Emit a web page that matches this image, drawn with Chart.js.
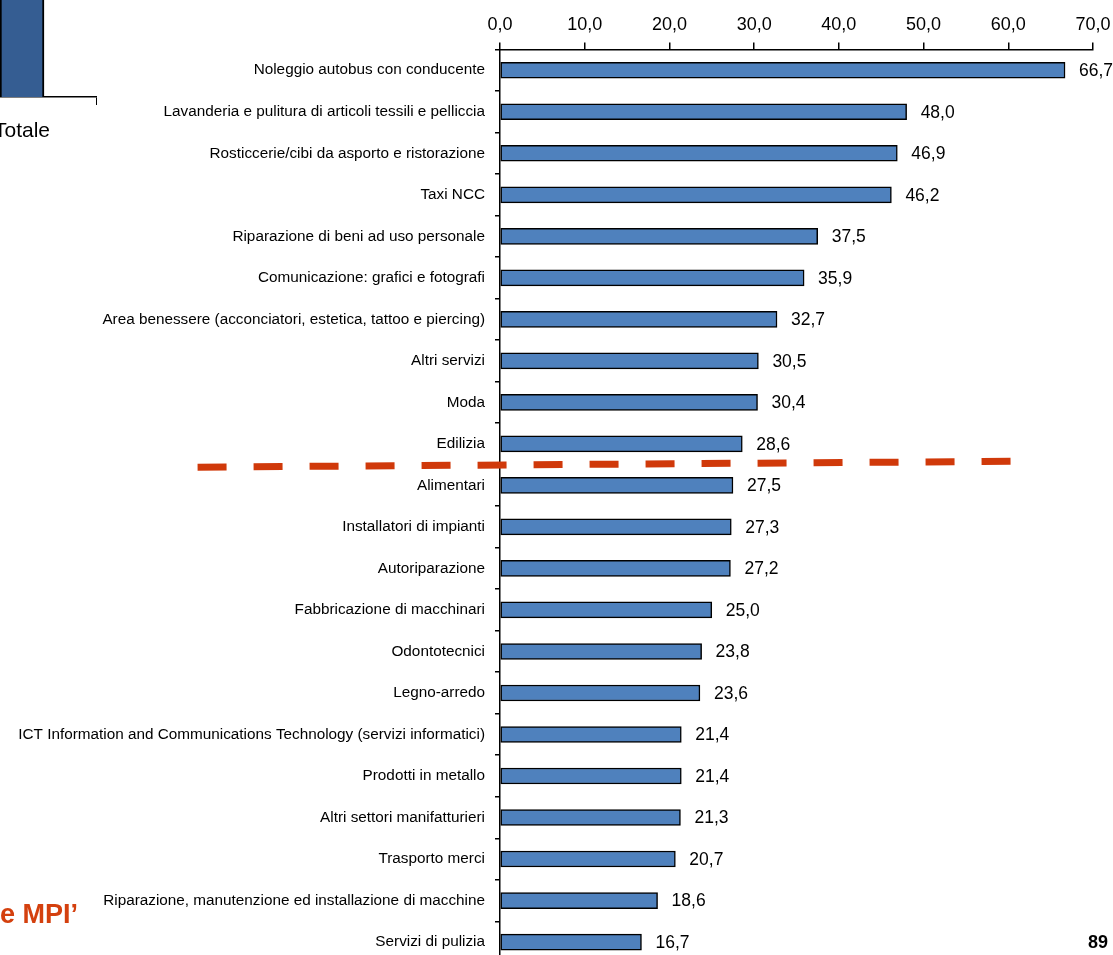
<!DOCTYPE html>
<html>
<head>
<meta charset="utf-8">
<script src="https://cdn.jsdelivr.net/npm/chart.js@4.4.1/dist/chart.umd.min.js"></script>
<style>
  html, body { margin: 0; padding: 0; background: #fff; width: 1113px; height: 955px; overflow: hidden; position: relative; }
  #main { position: absolute; left: 0; top: 0; width: 1113px; height: 982px; }
  #side { position: absolute; left: -53px; top: -10px; width: 150px; height: 165px; }
  .note { position: absolute; font-family: 'Liberation Sans', Arial, sans-serif; white-space: nowrap; }
  #mpi { left: 0; top: 898px; font-size: 27px; font-weight: bold; color: #D4400E; line-height: 32px; }
  #page { left: 1088px; top: 931px; font-size: 18px; font-weight: bold; color: #000; line-height: 22px; }
</style>
</head>
<body>
<div id="side"><canvas id="sideChart"></canvas></div>
<div id="main"><canvas id="chart"></canvas></div>
<div class="note" id="mpi">e MPI’</div>
<div class="note" id="page">89</div>
<script>
const categories = [
  'Noleggio autobus con conducente',
  'Lavanderia e pulitura di articoli tessili e pelliccia',
  'Rosticcerie/cibi da asporto e ristorazione',
  'Taxi NCC',
  'Riparazione di beni ad uso personale',
  'Comunicazione: grafici e fotografi',
  'Area benessere (acconciatori, estetica, tattoo e piercing)',
  'Altri servizi',
  'Moda',
  'Edilizia',
  'Alimentari',
  'Installatori di impianti',
  'Autoriparazione',
  'Fabbricazione di macchinari',
  'Odontotecnici',
  'Legno-arredo',
  'ICT Information and Communications Technology (servizi informatici)',
  'Prodotti in metallo',
  'Altri settori manifatturieri',
  'Trasporto merci',
  'Riparazione, manutenzione ed installazione di macchine',
  'Servizi di pulizia'
];
const values = [66.7, 48.0, 46.9, 46.2, 37.5, 35.9, 32.7, 30.5, 30.4, 28.6, 27.5, 27.3, 27.2, 25.0, 23.8, 23.6, 21.4, 21.4, 21.3, 20.7, 18.6, 16.7];
const xMin = 0;
const xMax = 70;
const xStep = 10;

// threshold separator line (between Edilizia and Alimentari), in data units
const sepStart = { x: -35.7, y: 9.56 };
const sepEnd = { x: 60.7, y: 9.42 };

// fragment of a neighbouring chart at left edge
const sideCategories = ['Totale'];
const sideValues = [100];

const FONT = "'Liberation Sans', Arial, sans-serif";
Chart.defaults.font.family = FONT;
Chart.defaults.color = '#000';

const fmt = v => Number(v).toFixed(1).replace('.', ',');

const valueLabels = {
  id: 'valueLabels',
  afterDatasetsDraw(chart) {
    const ctx = chart.ctx;
    const meta = chart.getDatasetMeta(0);
    ctx.save();
    ctx.font = '17.5px ' + FONT;
    ctx.fillStyle = '#000';
    ctx.textAlign = 'left';
    ctx.textBaseline = 'middle';
    meta.data.forEach((bar, i) => {
      ctx.fillText(fmt(values[i]), bar.x + 14, bar.y + 1);
    });
    ctx.restore();
  }
};

const separator = {
  id: 'separator',
  afterDraw(chart) {
    const xs = chart.scales.x, ys = chart.scales.y;
    const ctx = chart.ctx;
    ctx.save();
    ctx.strokeStyle = '#D0390A';
    ctx.lineWidth = 7;
    ctx.setLineDash([29, 27]);
    ctx.beginPath();
    ctx.moveTo(xs.getPixelForValue(sepStart.x), ys.getPixelForValue(sepStart.y));
    ctx.lineTo(xs.getPixelForValue(sepEnd.x), ys.getPixelForValue(sepEnd.y));
    ctx.stroke();
    ctx.restore();
  }
};

new Chart(document.getElementById('chart'), {
  type: 'bar',
  data: {
    labels: categories,
    datasets: [{
      data: values,
      backgroundColor: '#4F81BD',
      borderColor: '#000',
      borderWidth: 1.5,
      barThickness: 16,
      borderSkipped: false
    }]
  },
  options: {
    indexAxis: 'y',
    responsive: true,
    maintainAspectRatio: false,
    animation: false,
    layout: { padding: { left: 0, right: 20, top: 0, bottom: 0 } },
    plugins: { legend: { display: false }, tooltip: { enabled: false } },
    scales: {
      x: {
        position: 'top',
        min: xMin,
        max: xMax,
        afterFit: s => { s.height = 49.5; s.paddingRight = 0; s.paddingLeft = 0; },
        ticks: {
          stepSize: xStep,
          callback: v => fmt(v),
          font: { size: 18 },
          color: '#000',
          padding: 7,
          maxRotation: 0
        },
        grid: { drawOnChartArea: false, tickLength: 7, color: '#000', lineWidth: 1.5 },
        border: { color: '#000', width: 1.5 }
      },
      y: {
        afterFit: s => { s.width = 500; },
        ticks: { font: { size: 15.3 }, color: '#000', padding: 10, autoSkip: false },
        grid: { offset: true, drawOnChartArea: false, tickLength: 5, color: '#000', lineWidth: 1.5 },
        border: { color: '#000', width: 1.5 }
      }
    }
  },
  plugins: [valueLabels, separator]
});

new Chart(document.getElementById('sideChart'), {
  type: 'bar',
  data: {
    labels: sideCategories,
    datasets: [{
      data: sideValues,
      backgroundColor: '#355D92',
      borderColor: '#000',
      borderWidth: 2,
      barThickness: 44,
      borderSkipped: 'bottom'
    }]
  },
  options: {
    responsive: true,
    maintainAspectRatio: false,
    animation: false,
    layout: { padding: 0 },
    plugins: { legend: { display: false }, tooltip: { enabled: false } },
    scales: {
      x: {
        afterFit: s => { s.height = 58; },
        ticks: { font: { size: 21 }, color: '#000', padding: 14 },
        grid: { offset: true, drawOnChartArea: false, tickLength: 8, color: '#000', lineWidth: 1.5 },
        border: { color: '#000', width: 1.5 }
      },
      y: { display: false, min: 0, max: 50 }
    }
  }
});
</script>
</body>
</html>
